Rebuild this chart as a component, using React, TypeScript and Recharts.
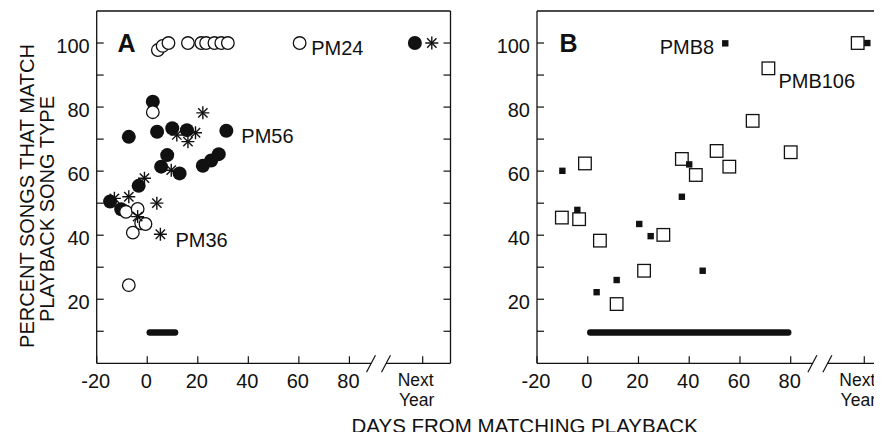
import { ReferenceDot, ReferenceLine, Scatter, ScatterChart, XAxis, YAxis } from "recharts";

const FONT = "'Liberation Sans', Arial, Helvetica, sans-serif";
const INK = "#111";

// x = days from matching playback, y = percent songs that match
// panel A
const pm24Open: [number, number][] = [
  [4.2, 97.8], [6.1, 99.1], [8.4, 100], [16.1, 100], [21.4, 100], [23.3, 100],
  [26.6, 100], [29.3, 100], [31.9, 100], [60.3, 100], [2.2, 78.4], [-8.4, 47.3],
  [-3.8, 48.2], [-5.7, 40.8], [-2.4, 43.7], [-0.7, 43.5], [-7.3, 24.4],
];
const pm56Filled: [number, number][] = [
  [2.2, 81.7], [-7.3, 70.7], [3.9, 72.3], [9.9, 73.4], [15.7, 72.8], [31.3, 72.6],
  [7.9, 65.0], [5.5, 61.4], [12.8, 59.3], [22.0, 61.7], [25.3, 63.3], [28.3, 65.3],
  [-3.4, 55.4], [-14.7, 50.5], [-10.3, 48.1], [105.9, 100],
];
const pm36Star: [number, number][] = [
  [22.0, 78.2], [11.7, 71.3], [16.1, 69.2], [19.1, 72.0], [9.5, 60.3], [-1.1, 57.8],
  [-13.0, 51.5], [-7.3, 52.0], [-3.8, 45.8], [3.8, 50.0], [5.2, 40.3], [112.6, 100],
];
// panel B
const pmb106Square: [number, number][] = [
  [-1.1, 62.4], [37.1, 63.8], [42.6, 58.8], [50.8, 66.3], [55.8, 61.4], [65.0, 75.7],
  [71.2, 92.1], [80.0, 65.9], [106.4, 100], [-10.2, 45.5], [-3.4, 45.0], [4.8, 38.3],
  [22.2, 28.9], [11.4, 18.5], [29.8, 40.1],
];
const pmb8Small: [number, number][] = [
  [-10.0, 60.1], [54.2, 99.9], [40.0, 62.1], [37.1, 52.0], [110.2, 100], [-4.1, 47.9],
  [3.5, 22.2], [11.4, 26.0], [20.3, 43.5], [24.8, 39.7], [45.3, 28.9],
];

// playback period bars
const playbackA = [1, 11];
const playbackB = [1, 79];
const PLAYBACK_Y = 9.6;

const annotationsA = [
  { x: 60.3, y: 100, text: "PM24" },
  { x: 31.3, y: 72.6, text: "PM56" },
  { x: 5.2, y: 40.3, text: "PM36" },
];
const annotationsB = [
  { x: 54.2, y: 99.9, text: "PMB8" },
  { x: 71.2, y: 92.1, text: "PMB106" },
];

const X_DOMAIN = [-20, 120];
const Y_DOMAIN = [0, 110];
const NEXT_YEAR = 109;
const BREAK_AT = 91.5;
const X_TICKS = [-20, 0, 20, 40, 60, 80, BREAK_AT, NEXT_YEAR];
const X_TICKS_TOP = [0, 20, 40, 60, 80, NEXT_YEAR];
const Y_TICKS = [10, 20, 30, 40, 50, 60, 70, 80, 90, 100];

const LABEL_STYLE: Record<string, { dx: number; dy: number; anchor: "start" | "end" }> = {
  PM24: { dx: 11.5, dy: 12, anchor: "start" },
  PM56: { dx: 15, dy: 12, anchor: "start" },
  PM36: { dx: 15, dy: 12.5, anchor: "start" },
  PMB8: { dx: -11, dy: 11, anchor: "end" },
  PMB106: { dx: 10, dy: 20, anchor: "start" },
};

const toPts = (arr: [number, number][]) => arr.map(([x, y]) => ({ x, y }));

const txt = { fontFamily: FONT, fontSize: 20, fill: INK };

function BottomTick({ x, y, payload }: any) {
  const v = payload.value;
  if (v === BREAK_AT) {
    return (
      <g>
        <rect x={x - 7.5} y={y - 2} width={15} height={4} fill="#fff" />
        <line x1={x - 12} y1={y + 9} x2={x - 3} y2={y - 8} stroke={INK} strokeWidth={1.2} />
        <line x1={x + 3} y1={y + 9} x2={x + 12} y2={y - 8} stroke={INK} strokeWidth={1.2} />
      </g>
    );
  }
  if (v === NEXT_YEAR) {
    return (
      <g>
        <line x1={x} y1={y} x2={x} y2={y - 7} stroke={INK} strokeWidth={1.2} />
        <text x={x - 7} y={y + 23} textAnchor="middle" {...txt} fontSize={17.5}>Next</text>
        <text x={x - 6} y={y + 43} textAnchor="middle" {...txt} fontSize={17.5}>Year</text>
      </g>
    );
  }
  return (
    <g>
      <line x1={x} y1={y} x2={x} y2={y - 7} stroke={INK} strokeWidth={1.2} />
      <text x={x - 1} y={y + 25} textAnchor="middle" {...txt}>{v}</text>
    </g>
  );
}

function TopTick({ x, y }: any) {
  return <line x1={x} y1={y} x2={x} y2={y + 7} stroke={INK} strokeWidth={1.2} />;
}

function LeftTick({ x, y, payload }: any) {
  const v = payload.value;
  return (
    <g>
      <line x1={x} y1={y} x2={x + 7} y2={y} stroke={INK} strokeWidth={1.2} />
      {v % 20 === 0 && (
        <text x={x - 7} y={y + 10} textAnchor="end" {...txt}>{v}</text>
      )}
    </g>
  );
}

function RightTick({ x, y }: any) {
  return <line x1={x} y1={y} x2={x - 7} y2={y} stroke={INK} strokeWidth={1.2} />;
}

const OpenCircle = ({ cx, cy }: any) => (
  <circle cx={cx} cy={cy} r={6.3} fill="#fff" stroke={INK} strokeWidth={1.3} />
);
const FilledCircle = ({ cx, cy }: any) => <circle cx={cx} cy={cy} r={7} fill={INK} />;
const Star = ({ cx, cy }: any) => {
  const r = 6.5;
  const d = r * 0.72;
  return (
    <g stroke={INK} strokeWidth={1.4}>
      <line x1={cx} y1={cy - r} x2={cx} y2={cy + r} />
      <line x1={cx - r} y1={cy} x2={cx + r} y2={cy} />
      <line x1={cx - d} y1={cy - d} x2={cx + d} y2={cy + d} />
      <line x1={cx - d} y1={cy + d} x2={cx + d} y2={cy - d} />
    </g>
  );
};
const OpenSquare = ({ cx, cy }: any) => (
  <rect x={cx - 6.3} y={cy - 6.3} width={12.6} height={12.6} fill="#fff" stroke={INK} strokeWidth={1.3} />
);
const SmallSquare = ({ cx, cy }: any) => (
  <rect x={cx - 3.2} y={cy - 3.2} width={6.4} height={6.4} fill={INK} />
);

const Annotation = (text: string) => ({ cx, cy }: any) => {
  const s = LABEL_STYLE[text];
  return (
    <text x={cx + s.dx} y={cy + s.dy} textAnchor={s.anchor} {...txt}>
      {text}
    </text>
  );
};

const axisLine = { stroke: INK, strokeWidth: 1.3 };

function frame() {
  return [
    <XAxis
      key="xb"
      xAxisId="b"
      dataKey="x"
      type="number"
      domain={X_DOMAIN}
      allowDataOverflow
      ticks={X_TICKS}
      interval={0}
      height={1}
      tickSize={0}
      tickMargin={0}
      tick={<BottomTick />}
      axisLine={axisLine}
    />,
    <XAxis
      key="xt"
      xAxisId="t"
      orientation="top"
      type="number"
      domain={X_DOMAIN}
      allowDataOverflow
      ticks={X_TICKS_TOP}
      interval={0}
      height={1}
      tickSize={0}
      tickMargin={0}
      tick={<TopTick />}
      axisLine={axisLine}
    />,
    <YAxis
      key="yl"
      yAxisId="l"
      dataKey="y"
      type="number"
      domain={Y_DOMAIN}
      allowDataOverflow
      ticks={Y_TICKS}
      interval={0}
      width={1}
      tickSize={0}
      tickMargin={0}
      tick={<LeftTick />}
      axisLine={axisLine}
    />,
    <YAxis
      key="yr"
      yAxisId="r"
      orientation="right"
      type="number"
      domain={Y_DOMAIN}
      allowDataOverflow
      ticks={Y_TICKS}
      interval={0}
      width={1}
      tickSize={0}
      tickMargin={0}
      tick={<RightTick />}
      axisLine={axisLine}
    />,
  ];
}

function playbackBar(range: number[]) {
  return (
    <ReferenceLine
      xAxisId="b"
      yAxisId="l"
      segment={[
        { x: range[0], y: PLAYBACK_Y },
        { x: range[1], y: PLAYBACK_Y },
      ]}
      stroke={INK}
      strokeWidth={6.5}
      strokeLinecap="round"
    />
  );
}

function annotations(list: { x: number; y: number; text: string }[]) {
  return list.map((a) => (
    <ReferenceDot
      key={a.text}
      xAxisId="b"
      yAxisId="l"
      x={a.x}
      y={a.y}
      r={0}
      shape={Annotation(a.text)}
    />
  ));
}

export default function App() {
  return (
    <div
      style={{
        position: "relative",
        width: 882,
        height: 440,
        margin: -8,
        overflow: "hidden",
        background: "#fff",
      }}
    >
      <div style={{ position: "absolute", left: 0, top: 0 }}>
        <ScatterChart width={460} height={440} margin={{ top: 10, right: 8.5, bottom: 75.7, left: 95.7 }}>
          {frame()}
          {playbackBar(playbackA)}
          <Scatter xAxisId="b" yAxisId="l" data={toPts(pm56Filled)} shape={FilledCircle} isAnimationActive={false} />
          <Scatter xAxisId="b" yAxisId="l" data={toPts(pm24Open)} shape={OpenCircle} isAnimationActive={false} />
          <Scatter xAxisId="b" yAxisId="l" data={toPts(pm36Star)} shape={Star} isAnimationActive={false} />
          {annotations(annotationsA)}
        </ScatterChart>
      </div>
      <div style={{ position: "absolute", left: 440, top: 0 }}>
        <ScatterChart width={460} height={440} margin={{ top: 10, right: 6.8, bottom: 75.7, left: 96 }}>
          {frame()}
          {playbackBar(playbackB)}
          <Scatter xAxisId="b" yAxisId="l" data={toPts(pmb106Square)} shape={OpenSquare} isAnimationActive={false} />
          <Scatter xAxisId="b" yAxisId="l" data={toPts(pmb8Small)} shape={SmallSquare} isAnimationActive={false} />
          {annotations(annotationsB)}
        </ScatterChart>
      </div>
      <svg
        width={882}
        height={440}
        style={{ position: "absolute", left: 0, top: 0, pointerEvents: "none" }}
      >
        <text x={117.5} y={51.5} fontFamily={FONT} fontSize={25} fontWeight="bold" fill={INK}>A</text>
        <text x={559.5} y={52} fontFamily={FONT} fontSize={25} fontWeight="bold" fill={INK}>B</text>
        <text transform="translate(34,196) rotate(-90)" textAnchor="middle" {...txt}>
          PERCENT SONGS THAT MATCH
        </text>
        <text transform="translate(54,209) rotate(-90)" textAnchor="middle" {...txt}>
          PLAYBACK SONG TYPE
        </text>
        <text x={524.7} y={432.7} textAnchor="middle" {...txt} fontSize={20.5}>
          DAYS FROM MATCHING PLAYBACK
        </text>
      </svg>
    </div>
  );
}
